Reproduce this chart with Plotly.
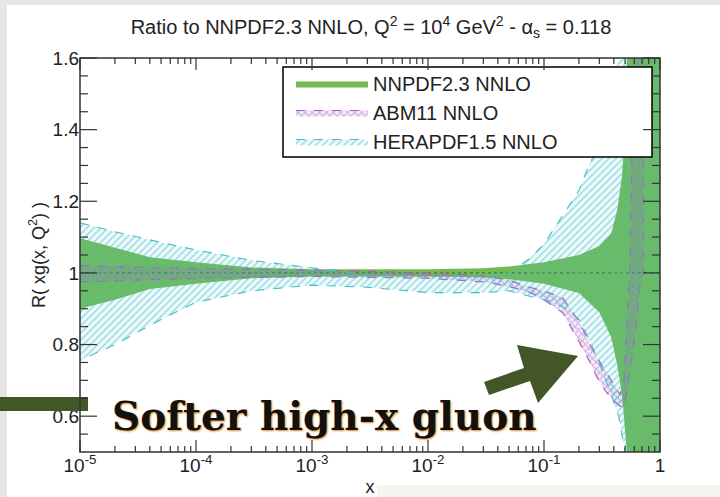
import math
import plotly.graph_objects as go

# ---------------- data ----------------
nn_x = [1e-5, 2e-5, 4e-5, 1e-4, 3e-4, 1e-3, 1e-2, 3e-2, 0.05, 0.1, 0.2, 0.3, 0.38, 0.43, 0.47, 0.5, 0.53, 0.56, 1.0]
nn_lo = [0.900, 0.925, 0.955, 0.970, 0.985, 0.990, 0.990, 0.987, 0.982, 0.970, 0.944, 0.890, 0.820, 0.74, 0.66, 0.56, 0.45, 0.30, 0.30]
nn_hi = [1.097, 1.070, 1.044, 1.030, 1.015, 1.010, 1.010, 1.013, 1.018, 1.030, 1.050, 1.075, 1.110, 1.18, 1.27, 1.40, 1.60, 2.00, 2.00]
nn_central = [1.0, 1.0, 1.0, 1.0, 1.0, 1.0, 1.0, 1.0, 1.0, 1.0, 1.0, 1.0, 1.0, 1.0, 1.0, 1.0, 1.0, 1.0, 1.0]

abm_x = [1e-5, 1e-4, 1e-3, 1e-2, 0.03, 0.05, 0.075, 0.1, 0.146, 0.204, 0.25, 0.286, 0.34, 0.394, 0.452, 0.49, 0.55, 0.62, 0.68, 0.72]
abm_lo = [0.975, 0.985, 0.990, 0.985, 0.975, 0.962, 0.946, 0.925, 0.888, 0.804, 0.750, 0.709, 0.670, 0.645, 0.628, 0.625, 0.72, 0.85, 0.98, 1.00]
abm_hi = [1.020, 1.012, 1.008, 1.000, 0.992, 0.980, 0.960, 0.950, 0.930, 0.860, 0.800, 0.765, 0.725, 0.690, 0.660, 0.700, 1.00, 2.00, 2.00, 2.00]

hera_x = [1e-5, 2e-5, 5e-5, 1e-4, 3e-4, 1e-3, 3e-3, 1e-2, 3e-2, 0.05, 0.075, 0.1, 0.146, 0.2, 0.24, 0.29, 0.33, 0.38, 0.44, 0.5, 0.53, 1.0]
hera_lo = [0.756, 0.800, 0.870, 0.918, 0.950, 0.966, 0.960, 0.945, 0.945, 0.950, 0.935, 0.925, 0.905, 0.870, 0.820, 0.760, 0.710, 0.660, 0.600, 0.500, 0.300, 0.300]
hera_hi = [1.140, 1.115, 1.085, 1.064, 1.035, 1.013, 0.995, 0.990, 0.992, 1.000, 1.040, 1.080, 1.160, 1.230, 1.295, 1.350, 1.400, 1.480, 1.600, 1.800, 2.000, 2.000]

series_names = ["NNPDF2.3 NNLO", "ABM11 NNLO", "HERAPDF1.5 NNLO"]

x_tickvals = [1e-5, 1e-4, 1e-3, 1e-2, 1e-1, 1]
x_ticktext = ["10<sup>-5</sup>", "10<sup>-4</sup>", "10<sup>-3</sup>", "10<sup>-2</sup>", "10<sup>-1</sup>", "1"]
y_tickvals = [0.6, 0.8, 1.0, 1.2, 1.4, 1.6]
y_ticktext = ["0.6", "0.8", "1", "1.2", "1.4", "1.6"]

GREEN = "#74ba50"
PURPLE = "#a65fc2"
CYAN = "#3fbfca"
OLIVE = "#435627"
AXC = "#333333"
FONT = "Liberation Sans, Arial, sans-serif"

W, H = 720, 497
ML, MR, MT, MB = 80, 60, 58, 45
PW, PH = W - ML - MR, H - MT - MB
X_RANGE = [-5, 0]
Y_RANGE = [0.5, 1.6]


def px(x):
    return (x - ML) / PW


def py(y):
    return (H - MB - y) / PH


def xfrac(v):
    return (math.log10(v) - X_RANGE[0]) / (X_RANGE[1] - X_RANGE[0])


def yfrac(v):
    return (v - Y_RANGE[0]) / (Y_RANGE[1] - Y_RANGE[0])


def band(xs, lo, hi):
    return list(xs) + list(xs)[::-1], list(hi) + list(lo)[::-1]


x_minor = [k * 10.0 ** e for e in range(-5, 0) for k in range(2, 10)]
y_minor = [round(0.5 + 0.05 * i, 2) for i in range(1, 22) if i % 2 == 1 or round(0.5 + 0.05 * i, 2) not in y_tickvals]

fig = go.Figure()

bx, by = band(nn_x, nn_lo, nn_hi)
fig.add_trace(go.Scatter(
    x=bx, y=by, fill="toself", mode="lines", line=dict(width=0, color=GREEN),
    fillcolor=GREEN, name=series_names[0], hoverinfo="skip"))
fig.add_trace(go.Scatter(
    x=nn_x, y=nn_central, mode="lines", line=dict(width=1.2, color="#3a7a3a", dash="dot"),
    showlegend=False, hoverinfo="skip"))

bx, by = band(abm_x, abm_lo, abm_hi)
fig.add_trace(go.Scatter(
    x=bx, y=by, fill="toself", mode="lines", line=dict(width=1.2, color=PURPLE, dash="dash"),
    fillcolor="rgba(166,95,194,0.15)",
    fillpattern=dict(shape="x", fgcolor=PURPLE, bgcolor="rgba(166,95,194,0.12)", size=5, solidity=0.35),
    name=series_names[1], hoverinfo="skip"))

bx, by = band(hera_x, hera_lo, hera_hi)
fig.add_trace(go.Scatter(
    x=bx, y=by, fill="toself", mode="lines", line=dict(width=1.1, color=CYAN, dash="dash"),
    fillcolor="rgba(63,191,202,0.10)",
    fillpattern=dict(shape="/", fgcolor=CYAN, bgcolor="rgba(63,191,202,0.08)", size=5, solidity=0.3),
    name=series_names[2], hoverinfo="skip"))

shapes = [
    # slide-like gray frame
    dict(type="rect", xref="paper", yref="paper", x0=px(0), x1=px(W), y0=py(5), y1=py(0),
         fillcolor="#e6e6e6", line=dict(width=0), layer="below"),
    dict(type="rect", xref="paper", yref="paper", x0=px(0), x1=px(7), y0=py(H), y1=py(0),
         fillcolor="#e6e6e6", line=dict(width=0), layer="below"),
    dict(type="rect", xref="paper", yref="paper", x0=px(377), x1=px(W), y0=py(H), y1=py(485),
         fillcolor="#f4f4f0", line=dict(width=0), layer="below"),
    # legend box
    dict(type="rect", xref="paper", yref="paper", x0=px(283), x1=px(652), y0=py(157), y1=py(67),
         fillcolor="white", line=dict(width=1.5, color="black"), layer="above"),
    # left arrow shaft
    dict(type="rect", xref="paper", yref="paper", x0=px(0), x1=px(88), y0=py(411), y1=py(397),
         fillcolor=OLIVE, line=dict(width=0), layer="above"),
]
pts = [(484, 382), (524, 368), (517, 345), (578, 356), (538, 403), (530, 381), (489, 395)]
path = "M " + " L ".join(f"{px(a):.4f},{py(b):.4f}" for a, b in pts) + " Z"
shapes.append(dict(type="path", xref="paper", yref="paper", path=path,
                   fillcolor=OLIVE, line=dict(width=0), layer="above"))


def tick(x0, x1, y0, y1):
    return dict(type="line", xref="paper", yref="paper", x0=x0, x1=x1, y0=y0, y1=y1,
                line=dict(color=AXC, width=1.2), layer="above")


# ticks (inside, mirrored on all four sides)
for v in x_tickvals + x_minor:
    L = (12 if v in x_tickvals else 6) / PH
    f = xfrac(v)
    shapes.append(tick(f, f, 0, L))
    shapes.append(tick(f, f, 1, 1 - L))
for v in y_tickvals + y_minor:
    L = (17 if v in y_tickvals else 8) / PW
    f = yfrac(v)
    shapes.append(tick(0, L, f, f))
    shapes.append(tick(1, 1 - L, f, f))
# frame
shapes.append(dict(type="rect", xref="paper", yref="paper", x0=0, x1=1, y0=0, y1=1,
                   fillcolor="rgba(0,0,0,0)", line=dict(color=AXC, width=1.5), layer="above"))

fig.update_layout(
    width=W, height=H, autosize=False,
    margin=dict(l=ML, r=MR, t=MT, b=MB, pad=0),
    paper_bgcolor="white", plot_bgcolor="white",
    font=dict(family=FONT, color="#222"),
    title=dict(text="Ratio to NNPDF2.3 NNLO, Q<sup>2</sup> = 10<sup>4</sup> GeV<sup>2</sup> - α<sub>s</sub> = 0.118",
               x=371 / W, xanchor="center", y=1 - 27 / H, yanchor="middle", yref="container",
               font=dict(size=20, family=FONT, color="#222")),
    showlegend=True,
    legend=dict(x=px(291), y=py(64), xanchor="left", yanchor="top", bgcolor="rgba(0,0,0,0)",
                borderwidth=0, font=dict(size=20, family=FONT, color="#222"), itemwidth=72,
                traceorder="normal"),
    shapes=shapes,
    annotations=[dict(text="<b>Softer high-x gluon</b>", xref="paper", yref="paper",
                      x=px(324), y=py(416), xanchor="center", yanchor="middle", showarrow=False,
                      font=dict(family="DejaVu Serif", size=39, color="#111",
                                shadow="1px 1px 2px rgb(225,140,40)"))],
    xaxis=dict(type="log", range=X_RANGE, tickmode="array", tickvals=x_tickvals, ticktext=x_ticktext,
               ticks="", showline=False, showgrid=False, zeroline=False,
               automargin=False, tickfont=dict(size=19, family=FONT, color="#222"),
               title=dict(text="x", font=dict(size=18, family=FONT, color="#222"), standoff=10)),
    yaxis=dict(range=Y_RANGE, tickmode="array", tickvals=y_tickvals, ticktext=y_ticktext,
               ticks="", showline=False, showgrid=False, zeroline=False,
               automargin=False, tickfont=dict(size=19, family=FONT, color="#222"),
               title=dict(text="R( xg(x, Q<sup>2</sup>) )", font=dict(size=18, family=FONT, color="#222"),
                          standoff=2)),
)

fig.write_html("out.html", config={"displayModeBar": False},
               post_script="document.body.style.margin='0';")
